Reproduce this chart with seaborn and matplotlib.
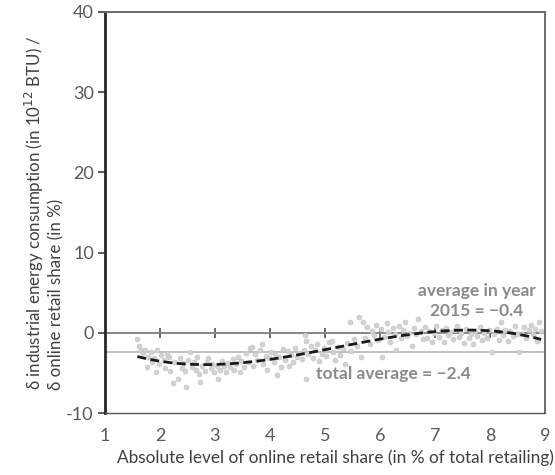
import matplotlib
matplotlib.use("Agg")
import matplotlib.pyplot as plt
import seaborn as sns
import numpy as np
import pandas as pd

# online retail share (%) and marginal effect
share = [1.59, 1.62, 1.66, 1.70, 1.73, 1.77, 1.79,
         1.83, 1.86, 1.90, 1.92, 1.95, 1.98, 2.02,
         2.07, 2.10, 2.13, 2.16, 2.19, 2.23, 2.26,
         2.33, 2.36, 2.40, 2.42, 2.45, 2.48, 2.51, 2.54,
         2.58, 2.62, 2.65, 2.68, 2.71, 2.73, 2.77,
         2.82, 2.85, 2.88, 2.92, 2.95, 2.99, 3.03, 3.06,
         3.10, 3.13, 3.17, 3.20, 3.24, 3.27,
         3.32, 3.35, 3.39, 3.42, 3.45, 3.48, 3.52,
         3.57, 3.60, 3.63, 3.67, 3.70, 3.73, 3.77,
         3.82, 3.85, 3.88, 3.92, 3.95, 3.98, 4.02,
         4.07, 4.10, 4.12, 4.16, 4.20, 4.24, 4.27,
         4.32, 4.35, 4.38, 4.42, 4.45, 4.49, 4.52,
         4.58, 4.62, 4.64, 4.65, 4.66, 4.70, 4.74, 4.78,
         4.82, 4.86, 4.90, 4.94, 4.98, 5.02,
         5.08, 5.12, 5.15, 5.19, 5.23, 5.27,
         5.33, 5.36, 5.40, 5.45, 5.48, 5.52,
         5.58, 5.62, 5.65, 5.70, 5.73, 5.77,
         5.82, 5.86, 5.89, 5.93, 5.97, 6.01, 6.03,
         6.08, 6.12, 6.15, 6.19, 6.23, 6.27, 6.30,
         6.34, 6.38, 6.42, 6.46, 6.50, 6.53,
         6.58, 6.62, 6.66, 6.70, 6.74, 6.78,
         6.82, 6.86, 6.90, 6.94, 6.98, 7.02,
         7.08, 7.12, 7.16, 7.20, 7.24, 7.28,
         7.32, 7.36, 7.40, 7.44, 7.48, 7.52,
         7.57, 7.61, 7.65, 7.69, 7.73, 7.77,
         7.82, 7.86, 7.90, 7.94, 7.98, 8.04,
         8.08, 8.12, 8.16, 8.20, 8.24, 8.28,
         8.33, 8.37, 8.41, 8.45, 8.49, 8.52,
         8.58, 8.62, 8.66, 8.70, 8.74, 8.78,
         8.82, 8.86, 8.89, 8.93]
effect = [-0.8, -1.7, -2.1, -2.5, -2.2, -4.3, -3.0,
          -2.4, -3.6, -3.2, -4.9, -2.2, -3.9, -2.8,
          -3.4, -4.4, -2.6, -3.0, -4.8, -6.2, -3.7,
          -5.7, -3.1, -4.4, -3.8, -4.8, -6.8, -3.4, -2.4,
          -4.3, -3.6, -4.7, -3.0, -5.1, -6.1, -4.1,
          -4.8, -3.7, -3.2, -4.4, -3.9, -4.9, -4.2, -5.7,
          -4.6, -3.5, -4.1, -4.9, -3.8, -4.3,
          -3.3, -4.6, -3.9, -3.0, -4.9, -3.5, -4.3,
          -2.5, -3.6, -1.9, -1.8, -4.2, -2.6, -3.4,
          -2.2, -1.4, -3.9, -2.9, -4.6, -3.2, -2.4,
          -3.7, -2.7, -5.3, -3.0, -4.3, -2.0, -3.4,
          -2.3, -4.1, -2.8, -3.6, -1.9, -3.0, -2.5,
          -3.3, -2.1, -0.3, -1.0, -5.7, -2.7, -1.6, -3.1,
          -2.2, -1.4, -3.5, -2.6, -1.9, -2.9,
          -1.2, -1.0, -2.4, -3.4, -1.8, -2.8,
          -2.0, -3.9, -1.3, 1.3, -2.3, -0.8,
          -1.7, 2.0, -3.0, 1.3, -0.6, 0.7,
          -1.4, 0.2, -0.3, 1.0, -0.9, 0.5, -3.0,
          -0.5, 1.2, 0.1, -1.1, 0.6, -0.2, -2.2,
          0.9, -0.7, 0.3, 1.4, -0.4, 0.0,
          -1.6, 0.6, -0.2, 1.7, 0.2, -0.8,
          0.7, -0.6, 0.2, -1.2, 0.0, 0.9,
          -0.5, 0.3, -1.1, 0.6, -0.3, 0.1,
          -0.8, 0.4, 0.8, -0.5, 0.0, -1.3,
          0.5, -0.7, -0.1, -1.4, 0.2, -0.4,
          0.7, -0.9, 0.0, -0.6, 0.4, -2.4,
          -0.1, 0.5, -0.9, 1.3, -0.3, 0.3,
          -1.0, 0.2, -0.4, 0.9, -0.1, -2.4,
          -0.1, 0.7, -0.6, 0.3, 1.0, -0.2,
          0.5, -1.0, 1.3, 0.2]

total_avg = -2.4
avg_2015 = -0.4
x_ticks = [1, 2, 3, 4, 5, 6, 7, 8, 9]
y_ticks = [-10, 0, 10, 20, 30, 40]

df = pd.DataFrame({"share": share, "effect": effect})

sns.set_style("white")
plt.rcParams["font.family"] = ["Lato", "DejaVu Sans"]
plt.rcParams["axes.unicode_minus"] = False

fig = plt.figure(figsize=(5.55, 4.75), dpi=100)
ax = fig.add_axes([0.189, 0.1305, 0.793, 0.8445])

ax.axhline(total_avg, color="#c0c0c0", lw=1.4, zorder=1)
ax.axhline(0, color="#858585", lw=1.4, zorder=1)

sns.scatterplot(data=df, x="share", y="effect", ax=ax, color="#d2d2d2",
                edgecolor="#c4c4c4", linewidth=0.4, s=13, zorder=2)
sns.regplot(data=df, x="share", y="effect", ax=ax, order=3, ci=None,
            scatter=False, truncate=True,
            line_kws={"color": "#1a1a1a", "lw": 2.0, "ls": (0, (3.2, 1.6))})

ax.set_xlim(1, 9)
ax.set_ylim(-10, 40)
ax.set_xticks(x_ticks)
ax.set_yticks(y_ticks)
ax.tick_params(axis="x", length=0, pad=11, labelsize=13, labelcolor="#595959")
ax.tick_params(axis="y", left=True, length=5, width=1.2, color="#404040",
               labelsize=13, labelcolor="#595959", pad=3)

# axis line at y = 0 carrying the crossing tick marks
sec = ax.secondary_xaxis(0.2)
sec.set_xticks(x_ticks[1:-1])
sec.tick_params(direction="inout", length=7, width=1.2, color="#505050",
                labelbottom=False)
sec.spines["bottom"].set_visible(False)

for side in ["top", "right"]:
    ax.spines[side].set_color("#6b6b6b")
    ax.spines[side].set_linewidth(1.4)
ax.spines["bottom"].set_color("#555555")
ax.spines["bottom"].set_linewidth(1.0)
ax.spines["left"].set_color("#262626")
ax.spines["left"].set_linewidth(2.0)

ax.set_xlabel("Absolute level of online retail share (in % of total retailing)",
              fontsize=12.4, color="#404040")
ax.xaxis.set_label_coords(0.523, -0.09)
ax.set_ylabel("δ industrial energy consumption (in 10$^{12}$ BTU) /\nδ online retail share (in %)",
              fontsize=12.2, color="#404040", linespacing=1.2,
              multialignment="left")
ax.yaxis.set_label_coords(-0.092, 0.5)

ax.text(7.76, 4.0, "average in year\n2015 = \u2212%.1f" % abs(avg_2015),
        ha="center", va="center", fontsize=12.5, fontweight="bold",
        color="#8a8a8a", linespacing=1.3)
ax.text(6.25, -5.1, "total average = \u2212%.1f" % abs(total_avg),
        ha="center", va="center", fontsize=12.5, fontweight="bold",
        color="#8a8a8a")

fig.savefig("out.png", dpi=100)
